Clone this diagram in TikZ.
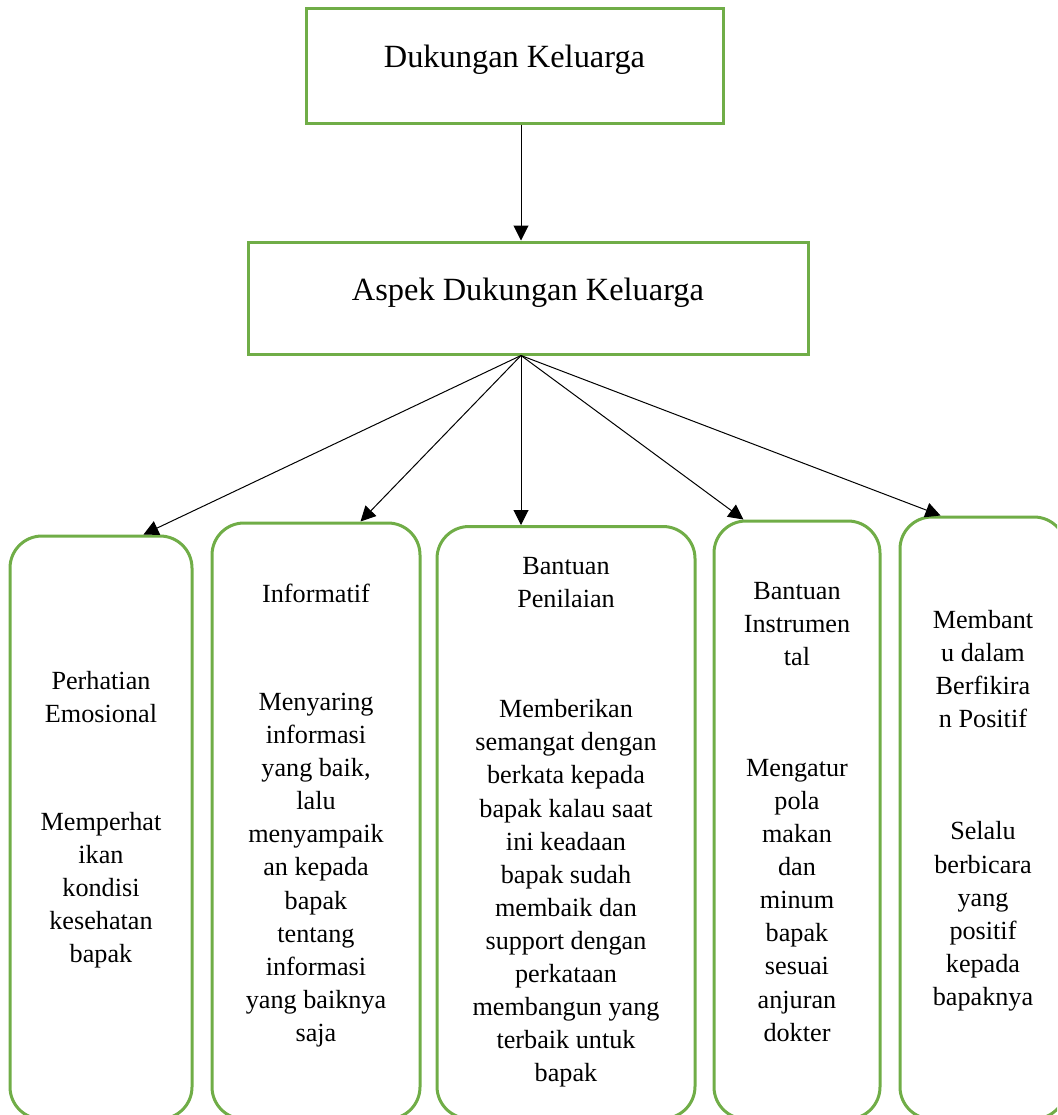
\documentclass[tikz,border=0pt]{standalone}
\usepackage{fontspec}
\setmainfont{Liberation Serif}
\usetikzlibrary{arrows.meta}
\definecolor{leafgreen}{HTML}{70AD47}

\begin{document}
\begin{tikzpicture}[x=0.5pt, y=-0.5pt,
  box/.style={draw=leafgreen, line width=1.5pt},
  hbox/.style={box, font=\fontsize{16.2}{19}\selectfont, text height=11pt, text depth=9pt},
  rbox/.style={box, rounded corners=16pt},
  txt/.style={font=\fontsize{13.1}{16.55}\selectfont, align=center, inner sep=0pt, anchor=north},
  arr/.style={line width=.5pt, -{Triangle[length=7.5pt,width=7.5pt]}},
  ]

\useasboundingbox (0,0) rectangle (1057,1115);
\clip (0,0) rectangle (1057,1115);

\path (514.5,65.5) node[hbox, minimum width=208.5pt, minimum height=57.5pt](dk){Dukungan Keluarga};
\path (528,298) node[hbox, minimum width=280pt, minimum height=56pt](asp){Aspek Dukungan Keluarga};

\path (101,827.5) node[rbox, minimum width=91pt, minimum height=291.5pt](b1){};
\path (316,821) node[rbox, minimum width=104pt, minimum height=298pt](b2){};
\path (566,822.5) node[rbox, minimum width=129pt, minimum height=296pt](b3){};
\path (797,820) node[rbox, minimum width=83pt, minimum height=299pt](b4){};
\path (983,818) node[rbox, minimum width=83pt, minimum height=301pt](b5){};

\path (b1.north) ++(0,136) node[txt](t1){Perhatian\\Emosional\\[37.5pt]Memperhat\\ikan\\kondisi\\kesehatan\\bapak};
\path (b2.north) ++(0,62) node[txt](t2){Informatif\\[37.5pt]Menyaring\\informasi\\yang baik,\\lalu\\menyampaik\\an kepada\\bapak\\tentang\\informasi\\yang baiknya\\saja};
\path (b3.north) ++(0,32) node[txt](t3){Bantuan\\Penilaian\\[38.5pt]Memberikan\\semangat dengan\\berkata kepada\\bapak kalau saat\\ini keadaan\\bapak sudah\\membaik dan\\support dengan\\perkataan\\membangun yang\\terbaik untuk\\bapak};
\path (b4.north) ++(0,62) node[txt](t4){Bantuan\\Instrumen\\tal\\[39pt]Mengatur\\pola\\makan\\dan\\minum\\bapak\\sesuai\\anjuran\\dokter};
\path (b5.north) ++(0,94.5) node[txt](t5){Membant\\u dalam\\Berfikira\\n Positif\\[39.5pt]Selalu\\berbicara\\yang\\positif\\kepada\\bapaknya};

\draw[arr] ([xshift=3.25pt]dk.south) -- ([xshift=3.25pt]dk.south |- asp.north);

\draw[arr] ([xshift=-3.5pt]asp.south) -- ([xshift=67.5pt]b1.north west);
\draw[arr] ([xshift=-3.5pt]asp.south) -- ([xshift=75pt]b2.north west);
\draw[arr] ([xshift=-3.5pt]asp.south) -- ([xshift=-3.5pt]asp.south |- b3.north);
\draw[arr] ([xshift=-3.5pt]asp.south) -- ([xshift=15.5pt]b4.north west);
\draw[arr] ([xshift=-3.5pt]asp.south) -- ([xshift=21pt]b5.north west);

\end{tikzpicture}
\end{document}
